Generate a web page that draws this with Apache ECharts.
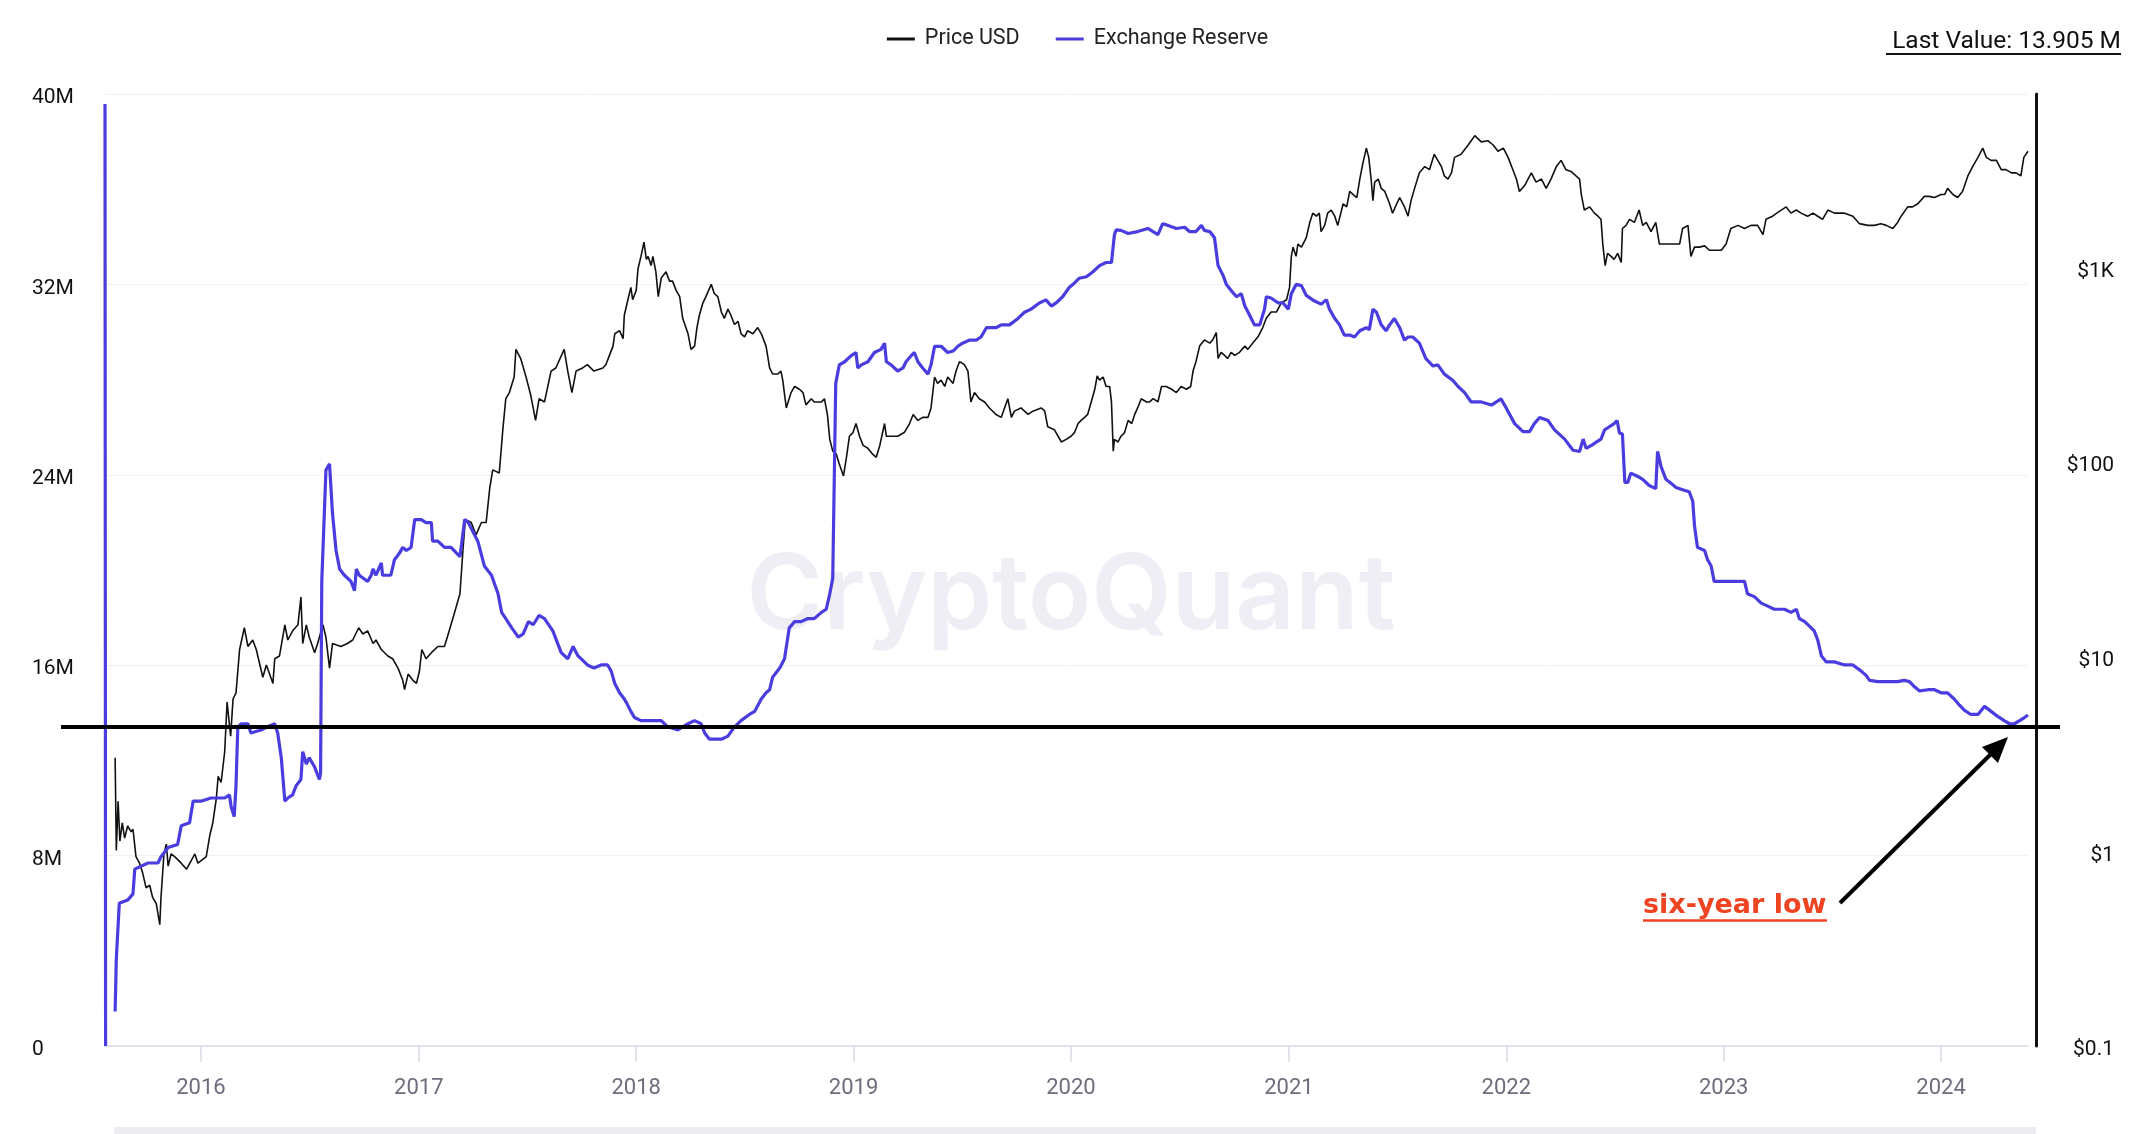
<!DOCTYPE html>
<html>
<head>
<meta charset="utf-8">
<title>ETH Exchange Reserve</title>
<script src="https://cdn.jsdelivr.net/npm/echarts@6/dist/echarts.min.js"></script>
<style>
  html, body { margin: 0; padding: 0; background: #fff; }
  #chart { width: 2155px; height: 1134px; }
</style>
</head>
<body>
<div id="chart"></div>
<script>
// exchange reserve, millions (leading spike + gap as drawn in the source)
var reserveDates = [
  '2015-07-24','2015-07-25','2015-07-26',
  '2015-08-10','2015-08-12','2015-08-17','2015-08-31','2015-09-09','2015-09-12','2015-09-23','2015-10-04','2015-10-21','2015-10-26',
  '2015-11-07','2015-11-23','2015-11-29','2015-12-13','2015-12-19','2016-01-02','2016-01-18','2016-02-10','2016-02-18','2016-02-21',
  '2016-02-26','2016-02-29','2016-03-03','2016-03-09','2016-03-20','2016-03-25','2016-04-11','2016-04-22','2016-05-04','2016-05-09',
  '2016-05-15','2016-05-21','2016-05-26','2016-06-03','2016-06-09','2016-06-17','2016-06-20','2016-06-26','2016-07-01','2016-07-10',
  '2016-07-18','2016-07-20','2016-07-22','2016-07-29','2016-08-04','2016-08-09','2016-08-15','2016-08-21','2016-08-29','2016-09-09',
  '2016-09-15','2016-09-18','2016-09-23','2016-10-07','2016-10-13','2016-10-16','2016-10-21','2016-10-30','2016-11-01','2016-11-15',
  '2016-11-21','2016-11-29','2016-12-05','2016-12-11','2016-12-19','2016-12-25','2017-01-05','2017-01-13','2017-01-22','2017-01-24',
  '2017-02-02','2017-02-13','2017-02-24','2017-03-11','2017-03-19','2017-03-25','2017-04-10','2017-04-21','2017-05-03','2017-05-14',
  '2017-05-20','2017-05-27','2017-06-06','2017-06-17','2017-06-25','2017-07-04','2017-07-12','2017-07-22','2017-07-31','2017-08-14',
  '2017-08-28','2017-09-08','2017-09-17','2017-09-25','2017-10-11','2017-10-22','2017-11-03','2017-11-14','2017-11-20','2017-11-26',
  '2017-12-04','2017-12-12','2017-12-15','2017-12-23','2017-12-29','2018-01-09','2018-01-21','2018-02-12','2018-02-23','2018-03-12',
  '2018-03-20','2018-03-29','2018-04-09','2018-04-20','2018-04-26','2018-05-04','2018-05-24','2018-06-04','2018-06-15','2018-06-26',
  '2018-07-10','2018-07-19','2018-07-30','2018-08-07','2018-08-13','2018-08-18','2018-08-30','2018-09-07','2018-09-11','2018-09-15',
  '2018-09-24','2018-10-05','2018-10-16','2018-10-27','2018-11-08','2018-11-16','2018-11-22','2018-11-27','2018-11-30','2018-12-02',
  '2018-12-08','2018-12-17','2018-12-28','2019-01-05','2019-01-08','2019-01-14','2019-01-25','2019-02-05','2019-02-16','2019-02-22',
  '2019-02-25','2019-03-05','2019-03-16','2019-03-25','2019-03-30','2019-04-08','2019-04-13','2019-04-19','2019-04-27','2019-05-06',
  '2019-05-11','2019-05-17','2019-05-28','2019-06-08','2019-06-17','2019-06-25','2019-07-03','2019-07-15','2019-07-26','2019-08-03',
  '2019-08-12','2019-08-28','2019-09-06','2019-09-20','2019-10-04','2019-10-15','2019-10-26','2019-11-09','2019-11-20','2019-11-29',
  '2019-12-07','2019-12-18','2019-12-29','2020-01-07','2020-01-15','2020-01-27','2020-02-07','2020-02-18','2020-02-29','2020-03-09',
  '2020-03-14','2020-03-17','2020-03-25','2020-04-06','2020-04-22','2020-05-09','2020-05-26','2020-06-03','2020-06-12','2020-06-26',
  '2020-07-10','2020-07-18','2020-07-29','2020-08-07','2020-08-12','2020-08-21','2020-08-29','2020-09-04','2020-09-12','2020-09-18',
  '2020-09-26','2020-10-05','2020-10-13','2020-10-19','2020-10-27','2020-11-04','2020-11-13','2020-11-21','2020-11-24','2020-12-02',
  '2020-12-14','2020-12-22','2020-12-31','2021-01-05','2021-01-13','2021-01-22','2021-01-30','2021-02-13','2021-02-24','2021-03-05',
  '2021-03-10','2021-03-19','2021-03-27','2021-04-04','2021-04-13','2021-04-21','2021-04-30','2021-05-11','2021-05-16','2021-05-22',
  '2021-05-28','2021-06-05','2021-06-13','2021-06-19','2021-06-27','2021-07-06','2021-07-14','2021-07-20','2021-07-28','2021-08-08',
  '2021-08-19','2021-08-31','2021-09-08','2021-09-19','2021-10-03','2021-10-12','2021-10-23','2021-11-03','2021-11-20','2021-12-07',
  '2021-12-23','2022-01-01','2022-01-15','2022-01-29','2022-02-09','2022-02-17','2022-02-26','2022-03-12','2022-03-23','2022-04-09',
  '2022-04-23','2022-05-04','2022-05-10','2022-05-15','2022-05-24','2022-06-01','2022-06-09','2022-06-15','2022-06-23','2022-07-01',
  '2022-07-06','2022-07-10','2022-07-15','2022-07-19','2022-07-24','2022-07-29','2022-08-09','2022-08-18','2022-08-29','2022-09-09',
  '2022-09-12','2022-09-18','2022-09-26','2022-10-05','2022-10-13','2022-10-24','2022-11-04','2022-11-10','2022-11-13','2022-11-18',
  '2022-11-30','2022-12-05','2022-12-11','2022-12-16','2023-01-02','2023-01-19','2023-02-05','2023-02-10','2023-02-22','2023-03-05',
  '2023-03-16','2023-03-27','2023-04-13','2023-04-24','2023-05-03','2023-05-08','2023-05-17','2023-05-28','2023-06-02','2023-06-08',
  '2023-06-14','2023-06-22','2023-07-06','2023-07-23','2023-08-06','2023-08-20','2023-08-28','2023-09-03','2023-09-17','2023-10-04',
  '2023-10-20','2023-10-31','2023-11-09','2023-11-17','2023-11-26','2023-12-10','2023-12-21','2024-01-01','2024-01-12','2024-01-23',
  '2024-02-01','2024-02-09','2024-02-20','2024-03-03','2024-03-14','2024-03-25','2024-04-05','2024-04-16','2024-04-25','2024-05-03',
  '2024-05-12','2024-05-20','2024-05-26'
];
var reserveValues = [
  39.58, 0, null,
  1.45, 3.66, 6.0, 6.13, 6.39, 7.43, 7.56, 7.69, 7.69, 7.95,
  8.34, 8.47, 9.25, 9.38, 10.29, 10.29, 10.42, 10.42, 10.55, 10.03,
  9.64, 10.94, 13.41, 13.54, 13.54, 13.15, 13.28, 13.41, 13.54, 13.15,
  12.11, 10.29, 10.42, 10.55, 10.94, 11.2, 12.37, 11.85, 12.11, 11.72,
  11.2, 11.46, 19.52, 24.2, 24.46, 22.38, 20.82, 20.04, 19.78, 19.52,
  19.13, 20.04, 19.78, 19.52, 19.78, 20.04, 19.78, 20.3, 19.78, 19.78,
  20.43, 20.69, 20.95, 20.82, 20.95, 22.12, 22.12, 21.99, 21.99, 21.21,
  21.21, 20.95, 20.95, 20.56, 22.12, 21.99, 21.21, 20.17, 19.78, 19.0,
  18.22, 17.96, 17.57, 17.18, 17.31, 17.83, 17.7, 18.09, 17.96, 17.44,
  16.53, 16.27, 16.79, 16.4, 16.01, 15.88, 16.01, 16.01, 15.75, 15.23,
  14.84, 14.58, 14.45, 14.06, 13.8, 13.67, 13.67, 13.67, 13.41, 13.28,
  13.41, 13.54, 13.67, 13.54, 13.15, 12.89, 12.89, 13.02, 13.41, 13.67,
  13.93, 14.06, 14.58, 14.84, 14.97, 15.49, 15.88, 16.27, 16.92, 17.57,
  17.83, 17.83, 17.96, 17.96, 18.22, 18.35, 19.0, 19.65, 19.65, 27.84,
  28.62, 28.75, 29.01, 29.14, 28.49, 28.62, 28.75, 29.14, 29.27, 29.53,
  28.75, 28.62, 28.36, 28.49, 28.75, 29.01, 29.14, 28.75, 28.49, 28.23,
  28.62, 29.4, 29.4, 29.14, 29.2, 29.4, 29.53, 29.66, 29.66, 29.79,
  30.18, 30.18, 30.3, 30.3, 30.57, 30.83, 30.96, 31.22, 31.35, 31.09,
  31.22, 31.48, 31.87, 32.06, 32.26, 32.32, 32.53, 32.79, 32.92, 32.92,
  34.09, 34.29, 34.27, 34.14, 34.22, 34.35, 34.09, 34.55, 34.48, 34.35,
  34.4, 34.22, 34.22, 34.48, 34.27, 34.22, 33.96, 32.79, 32.4, 32.0,
  31.74, 31.48, 31.61, 31.09, 30.7, 30.3, 30.3, 30.96, 31.48, 31.43,
  31.22, 31.22, 30.96, 31.61, 32.0, 31.95, 31.54, 31.3, 31.17, 31.36,
  30.96, 30.57, 30.3, 29.87, 29.87, 29.79, 30.05, 30.18, 30.1, 30.96,
  30.83, 30.3, 30.05, 30.3, 30.57, 30.18, 29.66, 29.79, 29.79, 29.53,
  28.88, 28.57, 28.62, 28.23, 27.97, 27.71, 27.45, 27.06, 27.06, 26.93,
  27.19, 26.8, 26.15, 25.81, 25.81, 26.15, 26.41, 26.28, 25.89, 25.5,
  25.03, 24.98, 25.5, 25.11, 25.24, 25.37, 25.5, 25.89, 26.02, 26.15,
  26.28, 25.76, 25.71, 23.68, 23.68, 24.07, 23.94, 23.81, 23.55, 23.42,
  24.98, 24.33, 23.81, 23.63, 23.47, 23.37, 23.29, 22.9, 21.86, 20.95,
  20.82, 20.43, 20.17, 19.52, 19.52, 19.52, 19.52, 19.0, 18.87, 18.61,
  18.48, 18.35, 18.35, 18.22, 18.35, 17.96, 17.83, 17.57, 17.44, 17.05,
  16.4, 16.14, 16.14, 16.01, 16.01, 15.75, 15.57, 15.36, 15.31, 15.31,
  15.31, 15.36, 15.31, 15.1, 14.92, 14.97, 14.97, 14.84, 14.84, 14.58,
  14.32, 14.11, 13.93, 13.93, 14.27, 14.06, 13.85, 13.67, 13.54, 13.54,
  13.67, 13.8, 13.905
];

// ETH price, USD
var priceDates = [
  '2015-08-10','2015-08-12','2015-08-15','2015-08-18','2015-08-22','2015-08-26','2015-08-31','2015-09-06','2015-09-09','2015-09-14',
  '2015-09-20','2015-09-25','2015-10-01','2015-10-07','2015-10-12','2015-10-18','2015-10-24','2015-10-26','2015-10-31','2015-11-04',
  '2015-11-07','2015-11-12','2015-11-18','2015-11-29','2015-12-08','2015-12-16','2015-12-22','2015-12-27','2016-01-02','2016-01-10',
  '2016-01-16','2016-01-21','2016-01-27','2016-01-30','2016-02-04','2016-02-10','2016-02-14','2016-02-20','2016-02-24','2016-02-29',
  '2016-03-06','2016-03-14','2016-03-20','2016-03-28','2016-04-03','2016-04-14','2016-04-20','2016-05-01','2016-05-04','2016-05-12',
  '2016-05-21','2016-05-26','2016-06-03','2016-06-12','2016-06-17','2016-06-20','2016-06-26','2016-07-01','2016-07-10','2016-07-15',
  '2016-07-24','2016-07-29','2016-08-04','2016-08-09','2016-08-23','2016-09-03','2016-09-12','2016-09-22','2016-09-29','2016-10-07',
  '2016-10-16','2016-10-21','2016-10-30','2016-11-10','2016-11-18','2016-11-27','2016-12-05','2016-12-08','2016-12-14','2016-12-22',
  '2016-12-28','2017-01-02','2017-01-06','2017-01-13','2017-01-22','2017-02-02','2017-02-13','2017-02-21','2017-03-02','2017-03-11',
  '2017-03-16','2017-03-20','2017-03-30','2017-04-07','2017-04-16','2017-04-24','2017-04-30','2017-05-05','2017-05-16','2017-05-22',
  '2017-05-27','2017-06-02','2017-06-10','2017-06-13','2017-06-21','2017-06-30','2017-07-08','2017-07-16','2017-07-22','2017-07-31',
  '2017-08-11','2017-08-19','2017-09-02','2017-09-08','2017-09-15','2017-09-22','2017-10-03','2017-10-11','2017-10-22','2017-11-06',
  '2017-11-11','2017-11-17','2017-11-23','2017-11-26','2017-12-04','2017-12-10','2017-12-12','2017-12-18','2017-12-23','2017-12-26',
  '2018-01-01','2018-01-04','2018-01-09','2018-01-14','2018-01-18','2018-01-21','2018-01-26','2018-01-29','2018-02-03','2018-02-07',
  '2018-02-12','2018-02-20','2018-02-26','2018-03-03','2018-03-09','2018-03-15','2018-03-20','2018-03-29','2018-04-03','2018-04-09',
  '2018-04-13','2018-04-17','2018-04-23','2018-04-28','2018-05-07','2018-05-12','2018-05-18','2018-05-24','2018-05-29','2018-06-04',
  '2018-06-09','2018-06-15','2018-06-21','2018-06-26','2018-07-02','2018-07-07','2018-07-16','2018-07-24','2018-07-30','2018-08-07',
  '2018-08-13','2018-08-18','2018-08-27','2018-09-01','2018-09-04','2018-09-10','2018-09-18','2018-09-24','2018-10-02','2018-10-08',
  '2018-10-13','2018-10-22','2018-10-27','2018-11-08','2018-11-13','2018-11-18','2018-11-22','2018-11-27','2018-12-03','2018-12-08',
  '2018-12-15','2018-12-20','2018-12-25','2018-12-31','2019-01-05','2019-01-11','2019-01-17','2019-01-25','2019-02-02','2019-02-08',
  '2019-02-14','2019-02-22','2019-02-25','2019-03-05','2019-03-16','2019-03-27','2019-04-05','2019-04-11','2019-04-19','2019-04-27',
  '2019-05-06','2019-05-11','2019-05-17','2019-05-22','2019-05-28','2019-06-03','2019-06-08','2019-06-17','2019-06-22','2019-06-28',
  '2019-07-06','2019-07-12','2019-07-17','2019-07-23','2019-07-31','2019-08-09','2019-08-17','2019-08-28','2019-09-06','2019-09-17',
  '2019-09-23','2019-09-28','2019-10-09','2019-10-21','2019-10-29','2019-11-12','2019-11-18','2019-11-23','2019-12-04','2019-12-16',
  '2019-12-24','2020-01-01','2020-01-07','2020-01-13','2020-01-18','2020-01-24','2020-01-29','2020-02-04','2020-02-10','2020-02-14',
  '2020-02-18','2020-02-24','2020-02-29','2020-03-06','2020-03-09','2020-03-12','2020-03-14','2020-03-20','2020-03-25','2020-03-31',
  '2020-04-06','2020-04-12','2020-04-17','2020-04-22','2020-04-28','2020-05-07','2020-05-12','2020-05-18','2020-05-26','2020-06-01',
  '2020-06-09','2020-06-18','2020-06-26','2020-07-04','2020-07-13','2020-07-20','2020-07-24','2020-07-29','2020-08-04','2020-08-12',
  '2020-08-21','2020-08-26','2020-09-01','2020-09-04','2020-09-09','2020-09-15','2020-09-20','2020-09-26','2020-10-02','2020-10-10',
  '2020-10-19','2020-10-24','2020-11-01','2020-11-10','2020-11-18','2020-11-24','2020-12-02','2020-12-11','2020-12-19','2020-12-28',
  '2021-01-02','2021-01-05','2021-01-08','2021-01-13','2021-01-16','2021-01-22','2021-01-30','2021-02-05','2021-02-10','2021-02-16',
  '2021-02-21','2021-02-24','2021-03-02','2021-03-07','2021-03-13','2021-03-19','2021-03-24','2021-04-02','2021-04-08','2021-04-13',
  '2021-04-19','2021-04-25','2021-04-30','2021-05-05','2021-05-11','2021-05-15','2021-05-19','2021-05-22','2021-05-25','2021-05-31',
  '2021-06-05','2021-06-11','2021-06-19','2021-06-24','2021-07-01','2021-07-06','2021-07-14','2021-07-20','2021-07-25','2021-07-31',
  '2021-08-08','2021-08-17','2021-08-25','2021-09-02','2021-09-08','2021-09-14','2021-09-19','2021-09-25','2021-10-01','2021-10-06',
  '2021-10-17','2021-10-29','2021-11-09','2021-11-20','2021-12-01','2021-12-10','2021-12-18','2021-12-27','2022-01-04','2022-01-12',
  '2022-01-18','2022-01-23','2022-02-01','2022-02-12','2022-02-20','2022-03-01','2022-03-09','2022-03-17','2022-03-26','2022-04-03',
  '2022-04-11','2022-04-20','2022-04-28','2022-05-04','2022-05-07','2022-05-12','2022-05-21','2022-05-29','2022-06-04','2022-06-09',
  '2022-06-12','2022-06-16','2022-06-20','2022-06-26','2022-07-01','2022-07-07','2022-07-13','2022-07-15','2022-07-21','2022-07-27',
  '2022-08-04','2022-08-12','2022-08-18','2022-08-24','2022-09-01','2022-09-09','2022-09-15','2022-09-21','2022-09-29','2022-10-10',
  '2022-10-19','2022-10-24','2022-11-02','2022-11-07','2022-11-13','2022-11-21','2022-11-30','2022-12-08','2022-12-16','2022-12-28',
  '2023-01-05','2023-01-13','2023-01-25','2023-02-05','2023-02-16','2023-02-27','2023-03-08','2023-03-13','2023-03-24','2023-04-05',
  '2023-04-16','2023-04-24','2023-05-03','2023-05-11','2023-05-22','2023-05-31','2023-06-08','2023-06-16','2023-06-25','2023-07-06',
  '2023-07-23','2023-08-06','2023-08-17','2023-08-31','2023-09-11','2023-09-22','2023-10-01','2023-10-12','2023-10-20','2023-10-26',
  '2023-11-06','2023-11-14','2023-11-23','2023-12-04','2023-12-12','2023-12-21','2024-01-01','2024-01-07','2024-01-12','2024-01-21',
  '2024-01-29','2024-02-06','2024-02-15','2024-02-23','2024-03-03','2024-03-11','2024-03-17','2024-03-25','2024-04-03','2024-04-11',
  '2024-04-19','2024-04-28','2024-05-06','2024-05-14','2024-05-19','2024-05-26'
];
var priceValues = [
  3.03, 1.01, 1.81, 1.13, 1.40, 1.17, 1.35, 1.26, 1.30, 0.94,
  0.87, 0.78, 0.65, 0.67, 0.58, 0.54, 0.42, 0.58, 0.97, 1.09,
  0.84, 0.97, 0.94, 0.87, 0.81, 0.90, 0.97, 0.87, 0.90, 0.94,
  1.21, 1.40, 1.88, 2.43, 2.26, 3.26, 5.85, 3.91, 6.07, 6.53,
  10.9, 14.1, 11.3, 12.2, 10.9, 7.85, 9.08, 7.30, 9.77, 10.1,
  14.6, 12.2, 13.6, 14.6, 20.3, 11.7, 14.6, 12.6, 10.5, 11.7,
  14.6, 12.6, 8.75, 11.7, 11.3, 11.7, 12.2, 14.1, 13.1, 13.6,
  11.7, 12.2, 10.9, 10.1, 9.77, 8.75, 7.57, 6.78, 8.15, 7.57,
  7.30, 8.45, 10.9, 9.77, 10.5, 11.3, 11.3, 13.6, 16.9, 21.1,
  35.2, 50.8, 49.0, 42.3, 49.0, 49.0, 73.3, 91.3, 88, 147,
  212, 228, 274, 380, 341, 274, 220, 164, 212, 204,
  294, 305, 380, 294, 228, 294, 305, 317, 294, 305,
  317, 354, 395, 457, 474, 431, 569, 684, 791, 684,
  764, 986, 1142, 1352, 1102, 1142, 1024, 1142, 951, 709,
  884, 951, 852, 852, 764, 709, 549, 457, 380, 395,
  492, 569, 659, 709, 821, 736, 709, 591, 549, 612,
  569, 510, 529, 457, 441, 474, 457, 492, 457, 395,
  305, 284, 284, 294, 264, 190, 228, 245, 237, 228,
  197, 212, 204, 204, 212, 176, 131, 114, 110, 98,
  85, 106, 136, 142, 158, 136, 122, 118, 110, 106,
  122, 158, 136, 136, 136, 142, 158, 176, 164, 170,
  170, 190, 274, 254, 264, 245, 274, 254, 294, 329,
  317, 294, 204, 228, 212, 204, 190, 176, 170, 212,
  170, 183, 190, 176, 183, 190, 183, 152, 147, 127,
  131, 136, 142, 158, 164, 170, 176, 204, 237, 278,
  264, 274, 245, 245, 204, 114, 131, 127, 136, 142,
  164, 158, 176, 190, 212, 204, 204, 212, 204, 245,
  245, 237, 228, 245, 237, 245, 294, 329, 395, 425,
  409, 425, 464, 341, 367, 354, 341, 367, 354, 367,
  395, 380, 409, 441, 492, 549, 591, 591, 659, 684,
  791, 1142, 1274, 1142, 1321, 1274, 1422, 1706, 1905, 1837,
  1905, 1531, 1648, 1905, 1976, 1837, 1648, 2128, 2051, 2462,
  2374, 2291, 2851, 3425, 4111, 3684, 2851, 2208, 2749, 2851,
  2553, 2462, 2128, 1905, 2128, 2291, 2051, 1837, 2208, 2553,
  3069, 3304, 3186, 3822, 3556, 3304, 2958, 2851, 3069, 3684,
  3822, 4266, 4762, 4426, 4490, 4266, 3963, 4111, 3684, 3186,
  2851, 2462, 2649, 3069, 2749, 2851, 2553, 2851, 3304, 3556,
  3186, 3114, 2958, 2851, 2374, 1976, 2051, 1905, 1837, 1771,
  1321, 1024, 1183, 1142, 1102, 1183, 1062, 1588, 1648, 1771,
  1706, 1976, 1648, 1706, 1531, 1706, 1321, 1321, 1321, 1321,
  1321, 1588, 1648, 1142, 1274, 1274, 1293, 1228, 1228, 1228,
  1321, 1588, 1648, 1588, 1648, 1648, 1476, 1771, 1837, 1950,
  2051, 1905, 1976, 1905, 1837, 1905, 1837, 1771, 1976, 1905,
  1905, 1837, 1682, 1648, 1648, 1682, 1648, 1588, 1706, 1837,
  2051, 2051, 2128, 2323, 2323, 2291, 2374, 2374, 2553, 2374,
  2291, 2462, 2958, 3304, 3684, 4111, 3684, 3556, 3556, 3186,
  3186, 3069, 3069, 2958, 3684, 3963
];

// year ticks along the bottom
var yearTicks = [2016, 2017, 2018, 2019, 2020, 2021, 2022, 2023, 2024];

var reserveData = reserveDates.map(function (d, i) {
  var v = reserveValues[i];
  return [Date.parse(d), v == null ? null : v * 1e6];
});
var priceData = priceDates.map(function (d, i) { return [Date.parse(d), priceValues[i]]; });
var yearStamps = yearTicks.map(function (y) { return Date.UTC(y, 0, 1); });

var chart = echarts.init(document.getElementById('chart'));

var option = {
  backgroundColor: '#ffffff',
  animation: false,
  textStyle: { fontFamily: 'Roboto, sans-serif' },
  legend: {
    top: 23,
    left: 'center',
    itemWidth: 28,
    itemHeight: 3,
    itemGap: 36,
    icon: 'rect',
    textStyle: { fontSize: 21.5, color: '#222', fontFamily: 'Roboto, sans-serif', padding: [0, 0, 0, 5] },
    data: [
      { name: 'Price USD', itemStyle: { color: '#111' } },
      { name: 'Exchange Reserve', itemStyle: { color: '#4a3ddf' } }
    ]
  },
  grid: { left: 105, right: 127, top: 94, bottom: 88, containLabel: false },
  xAxis: {
    type: 'value',
    min: Date.parse('2015-07-24'),
    max: Date.parse('2024-05-26'),
    axisLine: { show: true, lineStyle: { color: '#d9d9e4', width: 1.5 } },
    axisTick: { show: true, length: 16, customValues: yearStamps, lineStyle: { color: '#d9d9e4', width: 1.5 } },
    axisLabel: {
      customValues: yearStamps,
      margin: 31,
      fontSize: 22,
      color: '#6d6d7d',
      fontFamily: 'Roboto, sans-serif',
      formatter: function (v) { return String(new Date(v).getUTCFullYear()); }
    },
    splitLine: { show: false }
  },
  yAxis: [
    {
      type: 'value',
      position: 'left',
      min: 0,
      max: 40e6,
      interval: 8e6,
      axisLine: { show: false },
      axisTick: { show: false },
      axisLabel: {
        align: 'left',
        verticalAlign: 'top',
        lineHeight: 8,
        margin: 73,
        fontSize: 21,
        color: '#111',
        fontFamily: 'Roboto, sans-serif',
        formatter: function (v) { return v === 0 ? '0' : (v / 1e6) + 'M'; }
      },
      splitLine: { show: true, lineStyle: { color: '#f1f1f3', width: 1 } }
    },
    {
      type: 'log',
      logBase: 10,
      position: 'right',
      offset: 8,
      min: 0.1,
      max: 7800,
      interval: 1,
      axisLine: { show: true, lineStyle: { color: '#111', width: 3 } },
      axisTick: { show: false },
      splitLine: { show: false },
      axisLabel: {
        align: 'right',
        verticalAlign: 'top',
        lineHeight: 8,
        margin: 78,
        fontSize: 21,
        color: '#111',
        fontFamily: 'Roboto, sans-serif',
        showMaxLabel: false,
        formatter: function (v) {
          var r = Number(Number(v).toPrecision(3));
          if (r >= 1000) return '$' + (r / 1000) + 'K';
          return '$' + r;
        }
      }
    }
  ],
  graphic: [
    {
      type: 'text', z: 0, silent: true,
      x: 1071, y: 598,
      style: {
        text: 'CryptoQuant',
        font: '600 104px Inter, sans-serif',
        fill: '#eeeef4',
        textAlign: 'center',
        textVerticalAlign: 'middle'
      }
    },
    {
      type: 'rect', z: 0, silent: true,
      shape: { x: 114, y: 1127, width: 1922, height: 12 },
      style: { fill: '#ececf1' }
    },
    {
      type: 'line', z: 100, silent: true,
      shape: { x1: 61, y1: 727, x2: 2060, y2: 727 },
      style: { stroke: '#000', lineWidth: 4 }
    },
    {
      type: 'line', z: 100, silent: true,
      shape: { x1: 1840, y1: 903, x2: 1992, y2: 753 },
      style: { stroke: '#000', lineWidth: 4 }
    },
    {
      type: 'polygon', z: 100, silent: true,
      shape: { points: [[2008, 737], [1998, 763], [1982, 747]] },
      style: { fill: '#000' }
    },
    {
      type: 'text', z: 100, silent: true,
      x: 1643, y: 906,
      style: {
        text: 'six-year low',
        font: 'bold 27px "DejaVu Sans", Verdana, sans-serif',
        fill: '#ee4422',
        textAlign: 'left',
        textVerticalAlign: 'middle'
      }
    },
    {
      type: 'line', z: 100, silent: true,
      shape: { x1: 1643, y1: 920.5, x2: 1827, y2: 920.5 },
      style: { stroke: '#ee4422', lineWidth: 2.5 }
    },
    {
      type: 'text', z: 100, silent: true,
      x: 2121, y: 42,
      style: {
        text: 'Last Value: 13.905 M',
        font: '24.5px Roboto, sans-serif',
        fill: '#111',
        textAlign: 'right',
        textVerticalAlign: 'middle'
      }
    },
    {
      type: 'line', z: 100, silent: true,
      shape: { x1: 1886, y1: 54, x2: 2121, y2: 54 },
      style: { stroke: '#111', lineWidth: 2 }
    }
  ],
  series: [
    {
      name: 'Price USD',
      type: 'line',
      yAxisIndex: 1,
      data: priceData,
      showSymbol: false,
      symbol: 'none',
      z: 3,
      lineStyle: { color: '#111', width: 1.6 },
      itemStyle: { color: '#111' }
    },
    {
      name: 'Exchange Reserve',
      type: 'line',
      yAxisIndex: 0,
      data: reserveData,
      showSymbol: false,
      symbol: 'none',
      connectNulls: false,
      z: 4,
      lineStyle: { color: '#4a3ddf', width: 3.2 },
      itemStyle: { color: '#4a3ddf' }
    }
  ]
};

chart.setOption(option);
</script>
</body>
</html>
